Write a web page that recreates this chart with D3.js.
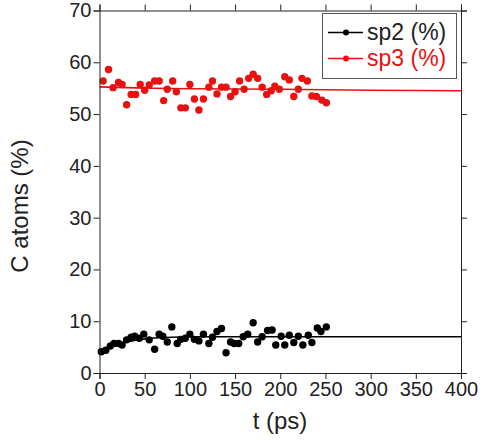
<!DOCTYPE html>
<html>
<head>
<meta charset="utf-8">
<script src="https://cdn.jsdelivr.net/npm/d3@7"></script>
<style>
  html, body { margin: 0; padding: 0; background: #fff; }
  svg { display: block; font-family: "Liberation Sans", Arial, sans-serif; }
</style>
</head>
<body>
<svg id="chart" width="483" height="441"></svg>
<script>
// Simulation time (ps) and atom fractions for each series
const sp2Time = [2, 7, 12, 16, 21, 25, 30, 35, 39, 44, 49, 55, 61, 66, 70, 75, 80, 86, 90, 95,
  100, 105, 110, 115, 121, 125, 130, 135, 140, 145, 149, 154, 159, 164, 170, 175, 180, 186, 191, 195,
  201, 205, 210, 215, 220, 225, 231, 235, 241, 245, 251];
const sp2Values = [4.1, 4.4, 5.2, 5.7, 5.7, 5.4, 6.4, 6.9, 7.1, 6.7, 7.5, 6.4, 4.6, 7.5, 7.1, 6.0, 8.9, 5.7, 6.5, 6.7,
  7.5, 6.5, 6.2, 7.5, 5.7, 6.9, 8.0, 8.6, 3.9, 6.0, 5.7, 5.7, 7.0, 7.5, 9.7, 6.0, 7.0, 8.2, 8.3, 5.4,
  7.1, 5.4, 7.3, 5.9, 7.1, 5.4, 7.3, 5.9, 8.7, 8.0, 8.9];

const sp3Time = [4, 10, 15, 21, 25, 30, 35, 40, 45, 50, 55, 61, 66, 71, 75, 81, 85, 90, 95, 100,
  105, 110, 115, 121, 125, 130, 135, 140, 145, 150, 155, 160, 165, 170, 175, 180, 185, 190, 194, 199,
  205, 210, 215, 220, 224, 230, 235, 240, 246, 251];
const sp3Values = [56.4, 58.6, 55.1, 56.1, 55.7, 51.8, 53.8, 53.8, 55.7, 54.6, 55.6, 56.4, 56.4, 52.6, 54.8, 56.4, 54.3, 51.2, 51.2, 55.7,
  52.9, 50.8, 52.9, 55.2, 56.4, 53.9, 55.2, 55.2, 53.4, 54.3, 56.4, 54.8, 56.9, 57.7, 56.9, 55.2, 53.8, 54.5, 55.4, 54.8,
  57.2, 56.6, 53.4, 54.8, 56.9, 56.4, 53.5, 53.4, 52.7, 52.2];

// Fitted trend curves
const fitTime = [0, 10, 20, 30, 40, 60, 80, 100, 150, 200, 300, 400];
const sp2Fit = [4.3, 5.0, 5.6, 6.0, 6.35, 6.75, 6.9, 7.0, 7.0, 7.0, 7.0, 7.0];
const sp3Fit = [55.25, 55.2, 55.15, 55.1, 55.05, 55.0, 54.95, 54.9, 54.85, 54.8, 54.6, 54.5];

const xTicks = [0, 50, 100, 150, 200, 250, 300, 350, 400];
const yTicks = [0, 10, 20, 30, 40, 50, 60, 70];

const seriesNames = ["sp2 (%)", "sp3 (%)"];
const seriesColors = ["#000000", "#e8110f"];

const svg = d3.select("#chart");
const plotLeft = 99.5, plotRight = 461, plotTop = 10.5, plotBottom = 373;

const x = d3.scaleLinear().domain([0, 400]).range([plotLeft, plotRight]);
const y = d3.scaleLinear().domain([0, 70]).range([plotBottom, plotTop]);

const axisColor = "#222";
function styleAxis(g) {
  g.selectAll("path.domain").attr("stroke", axisColor).attr("stroke-width", 1);
  g.selectAll(".tick line").attr("stroke", axisColor).attr("stroke-width", 1);
  g.selectAll(".tick text").attr("fill", "#222").style("font-size", "20px")
    .style("font-family", "'Liberation Sans', Arial, sans-serif");
}

// Fit curves
const line = d3.line().x(d => x(d[0])).y(d => y(d[1]));
svg.append("path")
  .attr("d", line(fitTime.map((t, i) => [t, sp2Fit[i]])))
  .attr("fill", "none").attr("stroke", seriesColors[0]).attr("stroke-width", 1.6);
svg.append("path")
  .attr("d", line(fitTime.map((t, i) => [t, sp3Fit[i]])))
  .attr("fill", "none").attr("stroke", seriesColors[1]).attr("stroke-width", 1.6);

// Data points
svg.append("g").selectAll("circle")
  .data(sp2Time.map((t, i) => [t, sp2Values[i]]))
  .join("circle")
  .attr("cx", d => x(d[0])).attr("cy", d => y(d[1])).attr("r", 3.7)
  .attr("fill", seriesColors[0]);
svg.append("g").selectAll("circle")
  .data(sp3Time.map((t, i) => [t, sp3Values[i]]))
  .join("circle")
  .attr("cx", d => x(d[0])).attr("cy", d => y(d[1])).attr("r", 3.7)
  .attr("fill", seriesColors[1]);

// Axes on all four sides, outward ticks
svg.append("g").attr("transform", `translate(0,${plotBottom})`)
  .call(d3.axisBottom(x).tickValues(xTicks).tickSize(6).tickPadding(3).tickFormat(d3.format("d")))
  .call(styleAxis);
svg.append("g").attr("transform", `translate(0,${plotTop})`)
  .call(d3.axisTop(x).tickValues(xTicks).tickSize(6).tickFormat(""))
  .call(styleAxis);
svg.append("g").attr("transform", `translate(${plotLeft},0)`)
  .call(d3.axisLeft(y).tickValues(yTicks).tickSize(6).tickPadding(2).tickFormat(d3.format("d")))
  .call(styleAxis);
svg.append("g").attr("transform", `translate(${plotRight},0)`)
  .call(d3.axisRight(y).tickValues(yTicks).tickSize(6).tickFormat(""))
  .call(styleAxis);

// Axis titles
svg.append("text")
  .attr("x", 280).attr("y", 429)
  .attr("text-anchor", "middle")
  .attr("fill", "#222")
  .style("font-size", "24px")
  .text("t (ps)");
svg.append("text")
  .attr("transform", "translate(28,206) rotate(-90)")
  .attr("text-anchor", "middle")
  .attr("fill", "#222")
  .style("font-size", "24px")
  .text("C atoms (%)");

// Legend
const legend = svg.append("g");
legend.append("rect")
  .attr("x", 322.5).attr("y", 13.5).attr("width", 134).attr("height", 65)
  .attr("fill", "#fff").attr("stroke", "#555").attr("stroke-width", 1);
seriesNames.forEach((name, i) => {
  const ly = 32.5 + i * 26;
  legend.append("line")
    .attr("x1", 328).attr("x2", 363).attr("y1", ly).attr("y2", ly)
    .attr("stroke", seriesColors[i]).attr("stroke-width", 1.6);
  legend.append("circle")
    .attr("cx", 346).attr("cy", ly).attr("r", 3)
    .attr("fill", seriesColors[i]);
  legend.append("text")
    .attr("x", 367).attr("y", ly + 7.5)
    .attr("fill", i === 0 ? "#222" : seriesColors[i])
    .style("font-size", "23px")
    .text(name);
});
</script>
</body>
</html>
